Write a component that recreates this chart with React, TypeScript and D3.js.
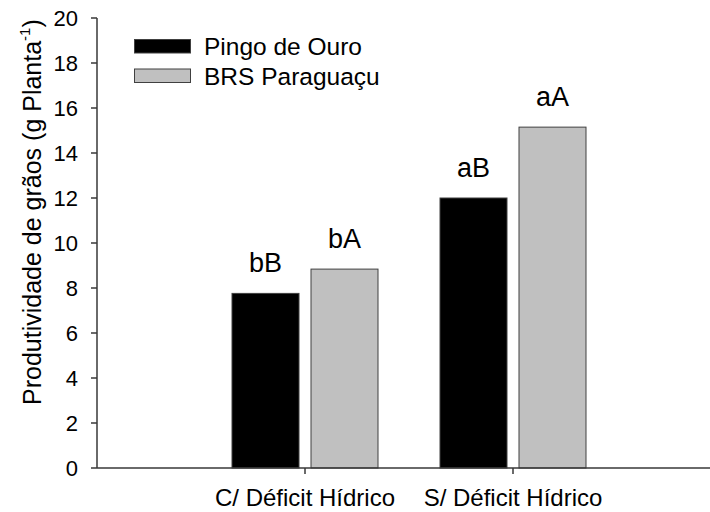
import React from "react";
import * as d3 from "d3";

const categories = ["C/ Déficit Hídrico", "S/ Déficit Hídrico"];
const seriesNames = ["Pingo de Ouro", "BRS Paraguaçu"];
const pingoValues = [7.76, 12.0];
const brsValues = [8.84, 15.15];
const pingoLetters = ["bB", "aB"];
const brsLetters = ["bA", "aA"];
const yTicks = [0, 2, 4, 6, 8, 10, 12, 14, 16, 18, 20];
const colors = ["#000000", "#c0c0c0"];

const W = 710;
const H = 512;
const FONT = "'Liberation Sans', Arial, Helvetica, sans-serif";

export default function App() {
  const y = d3.scaleLinear().domain([0, 20]).range([468, 18]);
  const x = d3.scaleLinear().domain([0, 3]).range([97, 721]);
  const sub = d3.scaleBand<number>().domain([0, 1]).range([-73, 73]).paddingInner(12 / 79).paddingOuter(0);
  const series = [pingoValues, brsValues];
  const letters = [pingoLetters, brsLetters];
  const axisColor = "#383838";

  return (
    <svg width={W} height={H} style={{ position: "absolute", left: 0, top: 0, background: "#fff" }} fontFamily={FONT}>
      {/* bars */}
      {categories.map((c, i) =>
        series.map((vals, s) => {
          const cx = x(i + 1);
          const x0 = cx + (sub(s) as number);
          const top = y(vals[i]);
          return (
            <g key={c + s}>
              <rect x={x0} y={top} width={sub.bandwidth()} height={y(0) - top} fill={colors[s]} stroke="#404040" strokeWidth={1} />
              <text x={x0 + sub.bandwidth() / 2} y={top - 21} textAnchor="middle" fontSize={27} fill="#000">
                {letters[s][i]}
              </text>
            </g>
          );
        })
      )}
      {/* y axis */}
      <line x1={97} x2={97} y1={y(20)} y2={y(0)} stroke={axisColor} strokeWidth={1.5} />
      {yTicks.map((t) => (
        <g key={t}>
          <line x1={91} x2={97} y1={y(t)} y2={y(t)} stroke={axisColor} strokeWidth={1.5} />
          <text x={78} y={y(t)} dy="0.36em" textAnchor="end" fontSize={22} fill="#000">
            {t}
          </text>
        </g>
      ))}
      {/* x axis */}
      <line x1={97} x2={x(3)} y1={y(0)} y2={y(0)} stroke={axisColor} strokeWidth={1.5} />
      {categories.map((c, i) => (
        <g key={c}>
          <line x1={x(i + 1)} x2={x(i + 1)} y1={y(0)} y2={y(0) + 6} stroke={axisColor} strokeWidth={1.5} />
          <text x={x(i + 1)} y={506} textAnchor="middle" fontSize={24} fill="#000">
            {c}
          </text>
        </g>
      ))}
      {/* y label */}
      <text transform="translate(41,405) rotate(-90)" fontSize={25} fill="#000">
        Produtividade de grãos (g Planta
        <tspan fontSize={15} dy={-11}>-1</tspan>
        <tspan dy={11}>)</tspan>
      </text>
      {/* legend */}
      {seriesNames.map((n, s) => (
        <g key={n} transform={`translate(0,${s * 29.5})`}>
          <rect x={134.5} y={39.5} width={56} height={13.5} fill={colors[s]} stroke="#404040" strokeWidth={1} />
          <text x={204} y={55} fontSize={24.5} fill="#000">
            {n}
          </text>
        </g>
      ))}
    </svg>
  );
}
